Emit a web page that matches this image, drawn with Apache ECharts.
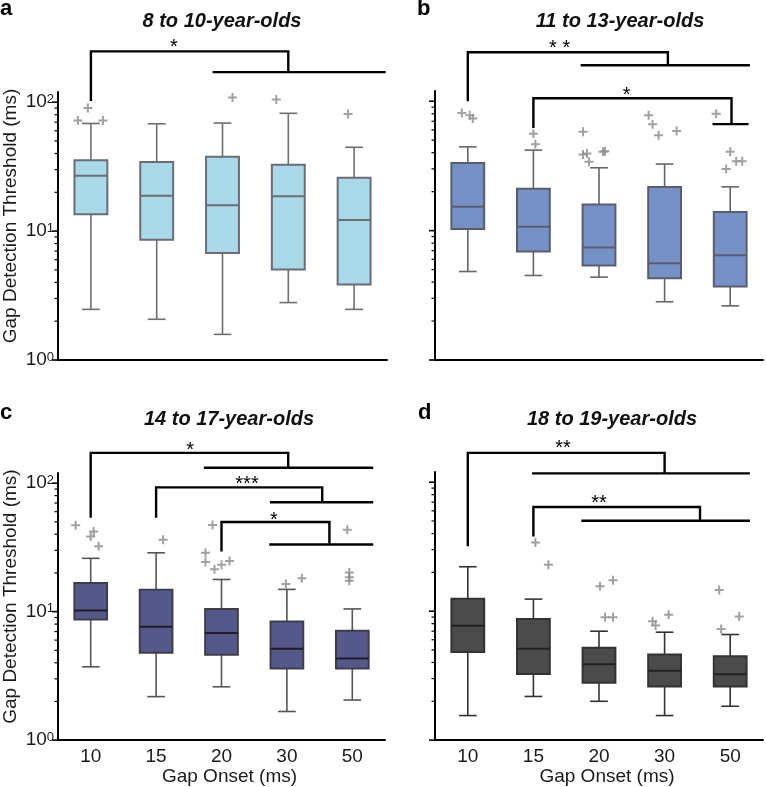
<!DOCTYPE html>
<html><head><meta charset="utf-8">
<script src="https://cdn.jsdelivr.net/npm/echarts@6/dist/echarts.min.js"></script>
<style>html,body{margin:0;padding:0;background:#fff}#c{width:766px;height:787px}</style>
</head><body><div id="c"></div>
<script>
// ---------- DATA ----------
const categories = ['10', '15', '20', '30', '50'];
const titles = ['8 to 10-year-olds', '11 to 13-year-olds', '14 to 17-year-olds', '18 to 19-year-olds'];
const panelLetters = ['a', 'b', 'c', 'd'];
const yTickValues = [1, 2, 3, 4, 5, 6, 7, 8, 9, 10, 20, 30, 40, 50, 60, 70, 80, 90, 100];

// box stats per gap onset: [lower whisker, Q1, median, Q3, upper whisker]
const boxA = [[2.47, 13.5, 26.9, 35.5, 68.4], [2.07, 8.57, 18.8, 34.3, 68], [1.58, 6.77, 15.9, 37.7, 68.9], [2.79, 5.03, 18.6, 32.7, 82], [2.47, 3.86, 12.2, 25.9, 44.7]];
const boxB = [[4.83, 10.3, 15.3, 33.3, 44.4], [4.5, 6.89, 10.7, 21.1, 41.9], [4.37, 5.37, 7.39, 15.9, 30.6], [2.82, 4.29, 5.6, 21.7, 32.7], [2.62, 3.7, 6.45, 13.9, 21.8]];
const boxC = [[3.72, 8.7, 10.2, 16.7, 26], [2.18, 4.79, 7.63, 14.8, 28.7], [2.6, 4.62, 6.82, 10.5, 17.8], [1.67, 3.61, 5.14, 8.38, 14.9], [2.05, 3.61, 4.31, 7.1, 10.5]];
const boxD = [[1.55, 4.83, 7.72, 12.5, 22.1], [2.18, 3.26, 5.12, 8.68, 12.4], [2.0, 2.79, 3.88, 5.21, 6.99], [1.55, 2.61, 3.45, 4.61, 6.87], [1.83, 2.61, 3.24, 4.47, 6.59]];

// outlier values per gap onset
const outA = [[72, 72, 90], [], [109], [105], [81]];
const outB = [[81, 78, 73.5], [56, 46.6], [58, 38.8, 39.5, 34, 40.7, 41.1], [78, 66.5, 54.7, 59], [80, 40.7, 34.3, 34.3, 29.9]];
const outC = [[47, 42, 38.5, 32.3], [36.3], [47.3, 28.7, 24.3, 21.4, 23.2, 24.8], [16.4, 18.2], [43.3, 20.2, 18.5, 17.4]];
const outD = [[], [34.1, 22.9], [15.6, 17.4, 8.95, 8.95], [8.34, 7.73, 9.38], [14.6, 7.28, 9.1]];

// ---------- LAYOUT (positions / styles, not data) ----------
// horizontal pixel offsets of outlier markers
const jitA = [[-13, 12, -3], [], [10], [-12], [-6]];
const jitB = [[-6, 2, 5], [0, 2], [-16, -16, -12, -10, 4, 6], [-16, -12, -6, 12], [-14, 0, 6, 12, -4]];
const jitC = [[-15, 3, 0, 8], [7], [-9, -16, -16, -7, 0, 8], [-1, 15], [-5, -3, -3, -3]];
const jitD = [[], [2, 15], [1, 14, 6, 14], [-12, -9, 4], [-11, -9, 9]];

// significance brackets (x in category units, y in axis units)
const bracketsA = [{from: 0, to: 3, top: 248, leftBottom: 102, drop: 171, g0: 1.85, g1: 4.48, sx: 1.26, sy: 267, label: '*'}];
const bracketsB = [
  {from: 0, to: 3.05, top: 239, leftBottom: 100, drop: 190, g0: 1.72, g1: 4.3, sx: 1.4, sy: 254, label: '* *'},
  {from: 1, to: 4.02, top: 105.5, leftBottom: 62, drop: 66.5, g0: 3.73, g1: 4.28, sx: 2.42, sy: 110, label: '*'}
];
const bracketsC = [
  {from: 0, to: 3.02, top: 172, leftBottom: 53.9, drop: 132, g0: 1.73, g1: 4.32, sx: 1.52, sy: 181, label: '*'},
  {from: 1, to: 3.54, top: 92.7, leftBottom: 53.9, drop: 71, g0: 2.74, g1: 4.32, sx: 2.39, sy: 97.7, label: '***'},
  {from: 2, to: 3.65, top: 49.9, leftBottom: 29.4, drop: 33.3, g0: 2.73, g1: 4.32, sx: 2.8, sy: 50.8, label: '*'}
];
const bracketsD = [
  {from: 0, to: 3.0, top: 169, leftBottom: 31.8, drop: 117, g0: 0.98, g1: 4.3, sx: 1.45, sy: 182, label: '**'},
  {from: 1, to: 3.54, top: 64.2, leftBottom: 37.9, drop: 50.2, g0: 1.73, g1: 4.3, sx: 2.0, sy: 69, label: '**'}
];

const FONT = '"Liberation Sans", Arial, Helvetica, sans-serif';
const panels = [
  {box: boxA, out: outA, jit: jitA, br: bracketsA, grid: {left: 57, top: 92, width: 330, height: 268}, showY: true, showX: false,
   st: {fill: '#a9d8e6', border: '#6b6c78', whisker: '#6e6e6e', median: '#6b6c78'}, title: [222, 21], letter: [0, 9]},
  {box: boxB, out: outB, jit: jitB, br: bracketsB, grid: {left: 435, top: 91, width: 328, height: 269}, showY: false, showX: false,
   st: {fill: '#7690c8', border: '#5a5e6c', whisker: '#666666', median: '#5a5e6c'}, title: [620, 21], letter: [417, 9]},
  {box: boxC, out: outC, jit: jitC, br: bracketsC, grid: {left: 57, top: 473, width: 328, height: 270}, showY: true, showX: true,
   st: {fill: '#56588a', border: '#3e3e4a', whisker: '#555555', median: '#1e1e28'}, title: [229, 419], letter: [0, 413]},
  {box: boxD, out: outD, jit: jitD, br: bracketsD, grid: {left: 435, top: 472, width: 328, height: 272}, showY: false, showX: true,
   st: {fill: '#4b4b4b', border: '#333333', whisker: '#333333', median: '#222222'}, title: [612, 419], letter: [418, 413]}
];

const plusPath = 'path://M3.5,0h2v3.5h3.5v2h-3.5v3.5h-2v-3.5h-3.5v-2h3.5z';

function boxRender(st) {
  return function (params, api) {
    const cat = api.value(0);
    const band = api.size([1, 0])[0];
    const p = [1, 2, 3, 4, 5].map(i => api.coord([cat, api.value(i)]));
    const x = p[0][0];
    const bw = band * 0.5, cw = band * 0.27;
    const yMin = p[0][1], yQ1 = p[1][1], yMed = p[2][1], yQ3 = p[3][1], yMax = p[4][1];
    const wl = {stroke: st.whisker, lineWidth: 1.6};
    return {type: 'group', children: [
      {type: 'line', shape: {x1: x, y1: yQ3, x2: x, y2: yMax}, style: wl},
      {type: 'line', shape: {x1: x, y1: yQ1, x2: x, y2: yMin}, style: wl},
      {type: 'line', shape: {x1: x - cw / 2, y1: yMax, x2: x + cw / 2, y2: yMax}, style: wl},
      {type: 'line', shape: {x1: x - cw / 2, y1: yMin, x2: x + cw / 2, y2: yMin}, style: wl},
      {type: 'rect', shape: {x: x - bw / 2, y: yQ3, width: bw, height: yQ1 - yQ3}, style: {fill: st.fill, stroke: st.border, lineWidth: 2}},
      {type: 'line', shape: {x1: x - bw / 2, y1: yMed, x2: x + bw / 2, y2: yMed}, style: {stroke: st.median, lineWidth: 2}}
    ]};
  };
}

function tickRender(params, api) {
  const v = api.value(1);
  const band = api.size([1, 0])[0];
  const pt = api.coord([0, v]);
  const x0 = pt[0] - band / 2;
  const e = Math.log10(v);
  const major = Math.abs(e - Math.round(e)) < 1e-6;
  const len = major ? 6 : 3.5;
  return {type: 'line', shape: {x1: x0 - len, y1: pt[1], x2: x0, y2: pt[1]},
          style: {stroke: '#000', lineWidth: major ? 1.6 : 1.2}};
}

function bracketRender(layout) {
  return function (params, api) {
    const b = layout[params.dataIndex];
    const band = api.size([1, 0])[0];
    const x0 = api.coord([0, 1])[0];
    const X = c => x0 + c * band;
    const Y = v => api.coord([0, v])[1];
    const xl = X(b.from), xr = X(b.to), yt = Y(b.top), yl = Y(b.leftBottom), yd = Y(b.drop);
    const ls = {stroke: '#000', lineWidth: 2.4, fill: null, lineJoin: 'miter'};
    return {type: 'group', children: [
      {type: 'polyline', shape: {points: [[xl, yl], [xl, yt], [xr, yt], [xr, yd]]}, style: ls},
      {type: 'line', shape: {x1: X(b.g0), y1: yd, x2: X(b.g1), y2: yd}, style: {stroke: '#000', lineWidth: 2.4}},
      {type: 'text', x: X(b.sx), y: Y(b.sy), style: {text: b.label, font: '20px ' + FONT, fill: '#000', align: 'center', verticalAlign: 'middle'}}
    ]};
  };
}

const grids = [], xAxes = [], yAxes = [], series = [], graphics = [];
panels.forEach((P, k) => {
  grids.push(Object.assign({}, P.grid));
  xAxes.push({
    type: 'category', gridIndex: k, data: categories, boundaryGap: true,
    axisLine: {lineStyle: {color: '#000', width: 2}},
    axisTick: {alignWithLabel: true, length: 5, lineStyle: {color: '#000', width: 1.6}},
    axisLabel: {show: P.showX, fontSize: 19, color: '#1a1a1a', fontFamily: FONT, margin: 7},
    name: P.showX ? 'Gap Onset (ms)' : '', nameLocation: 'middle', nameGap: 25,
    nameTextStyle: {fontSize: 19, color: '#1a1a1a', fontFamily: FONT, padding: [0, 0, 0, 16]},
    splitLine: {show: false}
  });
  yAxes.push({
    type: 'log', logBase: 10, gridIndex: k, min: 1, max: 120,
    axisLine: {show: true, lineStyle: {color: '#000', width: 2}},
    axisTick: {show: false}, minorTick: {show: false},
    splitLine: {show: false},
    axisLabel: {
      show: P.showY, margin: 4, fontFamily: FONT, color: '#1a1a1a',
      formatter: v => { const e = Math.log10(v); const r = Math.round(e); return Math.abs(e - r) < 1e-6 ? '{b|10}{s|' + r + '}' : ''; },
      rich: {b: {fontSize: 19, fontFamily: FONT, color: '#1a1a1a'}, s: {fontSize: 13, fontFamily: FONT, color: '#1a1a1a', verticalAlign: 'top'}}
    },
    name: P.showY ? 'Gap Detection Threshold (ms)' : '', nameLocation: 'middle', nameGap: 38,
    nameTextStyle: {fontSize: 19, color: '#1a1a1a', fontFamily: FONT, padding: [0, 0, 0, 20]}
  });
  series.push({
    type: 'custom', name: 'box' + k, xAxisIndex: k, yAxisIndex: k, silent: true,
    renderItem: boxRender(P.st),
    encode: {x: 0, y: [1, 2, 3, 4, 5]},
    data: P.box.map((b, i) => [i].concat(b)), z: 2
  });
  const sd = [];
  P.out.forEach((arr, i) => arr.forEach((v, j) => sd.push({value: [i, v], symbolOffset: [P.jit[i][j], 0]})));
  series.push({
    type: 'scatter', xAxisIndex: k, yAxisIndex: k, symbol: plusPath, symbolSize: 9, silent: true,
    itemStyle: {color: '#8a8a8a'}, data: sd, z: 3
  });
  series.push({
    type: 'custom', xAxisIndex: k, yAxisIndex: k, silent: true, clip: false,
    renderItem: tickRender, encode: {x: 0, y: 1},
    data: yTickValues.map(v => [0, v]), z: 4
  });
  series.push({
    type: 'custom', xAxisIndex: k, yAxisIndex: k, silent: true, clip: false,
    renderItem: bracketRender(P.br), encode: {x: 0, y: 1},
    data: P.br.map(() => [0, 10]), z: 5
  });
  graphics.push({type: 'text', x: P.title[0], y: P.title[1], style: {text: titles[k], font: 'italic bold 20px ' + FONT, fill: '#111', align: 'center', verticalAlign: 'middle'}});
  graphics.push({type: 'text', x: P.letter[0], y: P.letter[1], style: {text: panelLetters[k], font: 'bold 22px ' + FONT, fill: '#000', align: 'left', verticalAlign: 'middle'}});
});

const chart = echarts.init(document.getElementById('c'), null, {renderer: 'canvas'});
chart.setOption({
  animation: false, backgroundColor: '#fff',
  grid: grids, xAxis: xAxes, yAxis: yAxes, series: series, graphic: graphics
});
</script></body></html>
